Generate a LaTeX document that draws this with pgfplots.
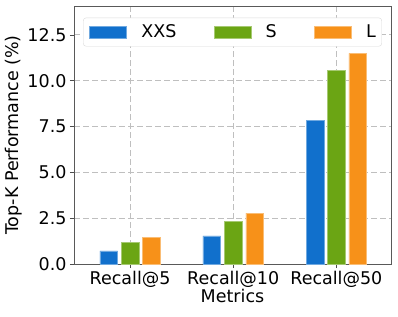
\documentclass[border=0pt]{standalone}
\usepackage{pgfplots}
\pgfplotsset{compat=1.18}
\usepackage{fontspec}
\setmainfont{DejaVu Sans}
\definecolor{cxxs}{RGB}{17,112,204}
\definecolor{cs}{RGB}{107,165,20}
\definecolor{cl}{RGB}{247,145,25}
\begin{document}
\begin{tikzpicture}
\useasboundingbox (-74pt,-52pt) rectangle (324pt,264pt);
\begin{axis}[
  at={(0,0)}, anchor=south west,
  scale only axis, width=317pt, height=258pt,
  xmin=-0.544, xmax=2.53, ymin=0, ymax=14.08,
  xtick={0,1,2}, xticklabels={Recall@5,Recall@10,Recall@50},
  ytick={0,2.5,5,7.5,10,12.5},
  yticklabel style={/pgf/number format/.cd,fixed,fixed zerofill,precision=1},
  /pgf/number format/assume math mode=true,
  tick label style={font=\fontsize{17.5}{20}\selectfont, text=black},
  label style={font=\fontsize{17.5}{20}\selectfont},
  xlabel={Metrics}, ylabel={Top-K Performance (\%)},
  xlabel style={yshift=6pt},
  ylabel style={yshift=-2pt},
  tick align=outside, xtick pos=bottom, ytick pos=left,
  major tick length=4pt,
  tick style={black!70, line width=0.7pt},
  axis line style={black!65, line width=0.9pt},
  grid=major, grid style={dash pattern=on 6pt off 3pt, black!25, line width=1pt},
  ybar, bar width=0.172, bar shift auto=false,
  legend columns=3,
  legend style={at={(0.5,0.955)}, anchor=north, draw=gray!30, rounded corners=3pt, fill=white,
    font=\fontsize{17.5}{20}\selectfont, inner xsep=6pt, inner ysep=4pt,
    nodes={inner xsep=0pt, inner ysep=3pt}, column sep=0pt},
  legend cell align=left,
  legend image code/.code={\fill[#1, sharp corners] (0pt,-6pt) rectangle (37pt,6pt); \path[draw=none, fill=none] (0pt,0pt) -- (52pt,0pt);},
]
\addplot[fill=cxxs, draw=cxxs!60!white, line width=0.4pt, bar shift=-0.208] coordinates {(0,0.71) (1,1.53) (2,7.84)};
\addlegendentry{XXS\rule{37pt}{0pt}}
\addplot[fill=cs, draw=cs!60!white, line width=0.4pt, bar shift=0] coordinates {(0,1.20) (1,2.33) (2,10.56)};
\addlegendentry{S\rule{37pt}{0pt}}
\addplot[fill=cl, draw=cl!60!white, line width=0.4pt, bar shift=0.208] coordinates {(0,1.46) (1,2.78) (2,11.50)};
\addlegendentry{L}
\end{axis}
\end{tikzpicture}
\end{document}
